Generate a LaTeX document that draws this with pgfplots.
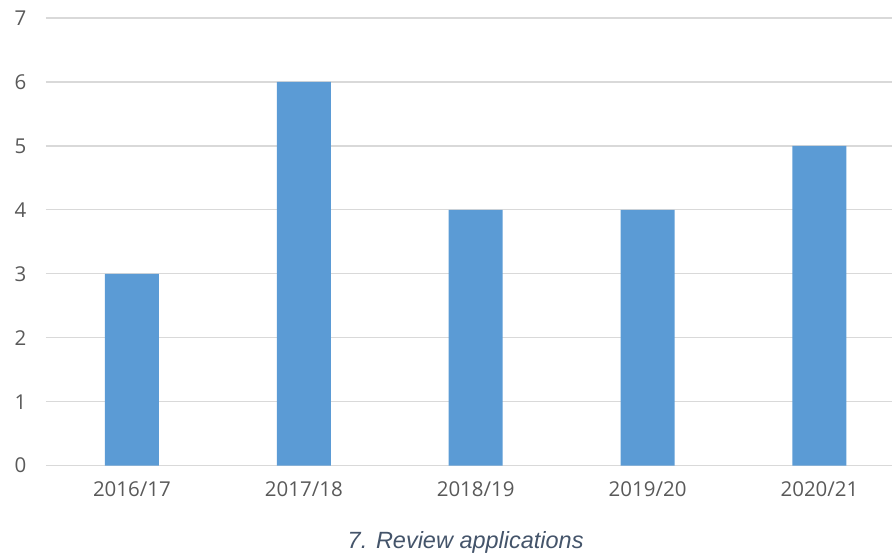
\documentclass[border=0pt]{standalone}
\usepackage{fontspec}
\setmainfont{Open Sans}
\newfontfamily\capfont{Liberation Sans}
\usepackage{pgfplots}
\pgfplotsset{compat=1.18}
\definecolor{barblue}{HTML}{5B9BD5}
\definecolor{gridgray}{HTML}{D9D9D9}
\definecolor{labgray}{HTML}{595959}
\definecolor{capcol}{HTML}{44546A}
\begin{document}
\begin{tikzpicture}
\begin{axis}[
  scale only axis,
  width=847pt, height=448pt,
  ymin=0, ymax=7,
  xmin=-0.5, xmax=4.424,
  ytick={0,1,...,7},
  xtick=data,
  xticklabels={2016/17,2017/18,2018/19,2019/20,2020/21},
  axis x line*=bottom,
  axis y line*=left,
  y axis line style={draw=none},
  x axis line style={gridgray, line width=1.3pt},
  ymajorgrids,
  grid style={gridgray, line width=1.3pt},
  major tick length=0pt,
  tick label style={font=\fontsize{20.5}{24}\selectfont, text=labgray},
  /pgf/number format/assume math mode=true,
  xticklabel shift=12pt,
  yticklabel shift=16pt,
  ybar, bar width=54pt,
]
\addplot[fill=barblue, draw=none] coordinates {(0,3) (1,6) (2,4) (3,4) (4,5)};
\end{axis}
\path (current axis.south west) ++(-46pt,-91pt) coordinate (a);
\path (current axis.north east) ++(0pt,18pt) coordinate (b);
\path (a) rectangle (b);
\node[text=capcol, font=\capfont\itshape\fontsize{23.5}{28}\selectfont] at ([xshift=420pt,yshift=-77pt]current axis.south west) {7. Review applications};
\end{tikzpicture}
\end{document}
